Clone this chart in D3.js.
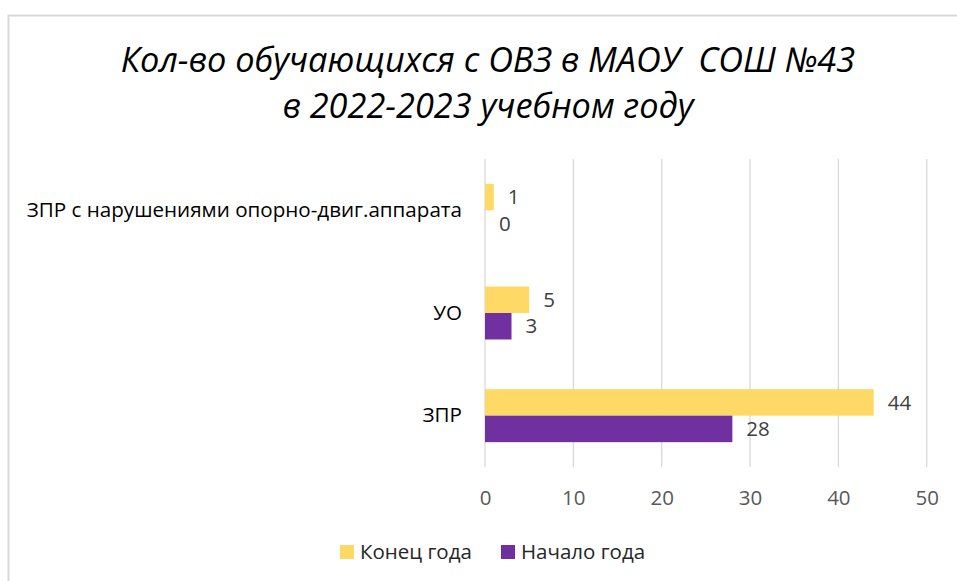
<!DOCTYPE html>
<html><head><meta charset="utf-8">
<script src="https://cdn.jsdelivr.net/npm/d3@7"></script>
<style>body{margin:0;background:#fff;}svg{display:block;} text{white-space:pre;}</style>
</head><body>
<svg id="c" width="957" height="581"></svg>
<script>
const categories = ["ЗПР с нарушениями опорно-двиг.аппарата", "УО", "ЗПР"];
const seriesNames = ["Конец года", "Начало года"];
const endOfYear = [1, 5, 44];
const startOfYear = [0, 3, 28];
const xTicks = [0, 10, 20, 30, 40, 50];
const colors = ["#FFD966", "#7030A0"];
const titleLines = ["Кол-во обучающихся с ОВЗ в МАОУ  СОШ №43", "в 2022-2023 учебном году"];

const svg = d3.select("#c");
const font = "'Open Sans', sans-serif";
// frame
svg.append("path").attr("d", "M8.5,581 V15.5 H957").attr("fill", "none").attr("stroke", "#D9D9D9").attr("stroke-width", 2);

// title
svg.append("g").selectAll("text").data(titleLines).join("text")
  .attr("x", 488).attr("y", (d, i) => 72 + i * 46)
  .attr("text-anchor", "middle").attr("font-family", font).attr("font-style", "italic")
  .attr("font-size", 34.3).attr("fill", "#000").text(d => d);

const x = d3.scaleLinear().domain([0, 50]).range([485, 926.7]);
const y = d3.scaleBand().domain(categories).range([159, 467]).paddingInner(0.484).paddingOuter(0.242);
const ySub = d3.scaleBand().domain(seriesNames).range([0, y.bandwidth()]);

// gridlines
svg.append("g").selectAll("line").data(xTicks).join("line")
  .attr("x1", d => x(d)).attr("x2", d => x(d)).attr("y1", 159).attr("y2", 467)
  .attr("stroke", "#D9D9D9").attr("stroke-width", 1.3);

// x axis labels
const xAxis = d3.axisBottom(x).tickValues(xTicks).tickSize(0).tickPadding(0);
const gx = svg.append("g").attr("transform", "translate(0,490)").call(xAxis);
gx.select(".domain").remove();
gx.selectAll("text").attr("font-family", font).attr("font-size", 20.5).attr("fill", "#595959");

// y axis labels
const yAxis = d3.axisLeft(y).tickSize(0).tickPadding(0);
const gy = svg.append("g").attr("transform", "translate(462,0)").call(yAxis);
gy.select(".domain").remove();
gy.selectAll("text").attr("font-family", font).attr("font-size", 20.6).attr("fill", "#000");

const data = categories.map((c, i) => ({cat: c, vals: [endOfYear[i], startOfYear[i]]}));
const groups = svg.append("g").selectAll("g").data(data).join("g")
  .attr("transform", d => `translate(0,${y(d.cat)})`);
const items = d => d.vals.map((v, j) => ({name: seriesNames[j], v, c: colors[j]}));
groups.selectAll("rect").data(items).join("rect")
  .attr("x", x(0)).attr("y", d => ySub(d.name))
  .attr("width", d => x(d.v) - x(0)).attr("height", ySub.bandwidth())
  .attr("fill", d => d.c);
groups.selectAll("text").data(items).join("text")
  .attr("x", d => x(d.v) + 14).attr("y", d => ySub(d.name) + ySub.bandwidth() / 2)
  .attr("dy", "0.35em").attr("font-family", font).attr("font-size", 20.5).attr("fill", "#404040")
  .text(d => d.v);

// legend
const legendX = [340, 501];
const lg = svg.append("g").selectAll("g").data(seriesNames).join("g")
  .attr("transform", (d, i) => `translate(${legendX[i]},545)`);
lg.append("rect").attr("width", 14).attr("height", 14).attr("fill", (d, i) => colors[i]);
lg.append("text").attr("x", 20).attr("y", 7).attr("dy", "0.35em")
  .attr("font-family", font).attr("font-size", 20.5).attr("fill", "#262626").text(d => d);
</script>
</body></html>
